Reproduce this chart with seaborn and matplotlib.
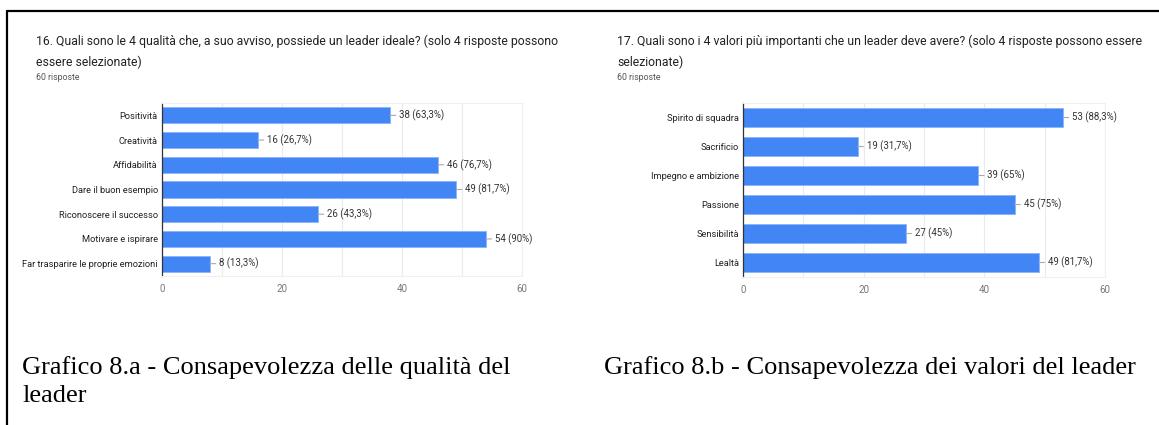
import matplotlib
matplotlib.use("Agg")
import matplotlib.pyplot as plt
import seaborn as sns
import pandas as pd
from matplotlib.lines import Line2D

# ---- data ----
labels_a = ["Positività", "Creatività", "Affidabilità", "Dare il buon esempio",
            "Riconoscere il successo", "Motivare e ispirare",
            "Far trasparire le proprie emozioni"]
values_a = [38, 16, 46, 49, 26, 54, 8]
pct_a = ["63,3%", "26,7%", "76,7%", "81,7%", "43,3%", "90%", "13,3%"]

labels_b = ["Spirito di squadra", "Sacrificio", "Impegno e ambizione",
            "Passione", "Sensibilità", "Lealtà"]
values_b = [53, 19, 39, 45, 27, 49]
pct_b = ["88,3%", "31,7%", "65%", "75%", "45%", "81,7%"]

ticks = [0, 20, 40, 60]

title_a = ("16. Quali sono le 4 qualità che, a suo avviso, possiede un leader ideale? (solo 4 risposte possono\n"
           "essere selezionate)")
title_b = ("17. Quali sono i 4 valori più importanti che un leader deve avere? (solo 4 risposte possono essere\n"
           "selezionate)")
subtitle = "60 risposte"
caption_a = "Grafico 8.a - Consapevolezza delle qualità del\nleader"
caption_b = "Grafico 8.b - Consapevolezza dei valori del leader"

# ---- style ----
sns.set_style("white")
plt.rcParams['font.family'] = ['Roboto', 'DejaVu Sans']

W, H = 1159, 425
fig = plt.figure(figsize=(W / 100, H / 100), dpi=100)
fig.patch.set_facecolor("white")

BLUE = "#4285F4"


def px_axes(x0, y0, x1, y1):
    return fig.add_axes([x0 / W, 1 - y1 / H, (x1 - x0) / W, (y1 - y0) / H])


def draw(ax, labels, values, pcts, width):
    df = pd.DataFrame({"cat": labels, "val": values})
    sns.barplot(data=df, y="cat", x="val", orient="h", color=BLUE,
                saturation=1, width=width, ax=ax,
                edgecolor="#8ab4f8", linewidth=0.6)
    ax.set_xlim(0, 60)
    ax.set_xticks(ticks)
    ax.set_xticks([10, 30, 50], minor=True)
    ax.grid(axis="x", which="both", color="#ebebeb", lw=0.8)
    ax.set_axisbelow(True)
    for s in ["top", "bottom", "right"]:
        ax.spines[s].set_color("#f0f0f0")
        ax.spines[s].set_linewidth(0.8)
    ax.spines["left"].set_color("#333333")
    ax.spines["left"].set_linewidth(0.9)
    ax.set_xlabel("")
    ax.set_ylabel("")
    ax.tick_params(axis="y", length=0, pad=3, labelsize=6.7, labelcolor="#222222")
    ax.tick_params(axis="x", which="both", length=0, pad=6, labelsize=7,
                   labelcolor="#777777")
    for i, (v, p) in enumerate(zip(values, pcts)):
        ax.annotate(f"{v} ({p})", xy=(v, i), xytext=(6.5, 0),
                    textcoords="offset points", va="center", ha="left",
                    fontsize=6.9, color="#333333",
                    arrowprops=dict(arrowstyle="-", color="#aaaaaa", lw=0.8,
                                    shrinkA=0, shrinkB=0))


ax1 = px_axes(162, 103, 522, 276)
draw(ax1, labels_a, values_a, pct_a, 0.65)
ax2 = px_axes(743, 103, 1105, 277)
draw(ax2, labels_b, values_b, pct_b, 0.66)

# titles
fig.text(36 / W, 1 - 35 / H, title_a, fontsize=8.8, color="#222222",
         va="top", ha="left", linespacing=1.7)
fig.text(36 / W, 1 - 78 / H, subtitle, fontsize=6.3, color="#555555",
         va="center", ha="left")
fig.text(617 / W, 1 - 35 / H, title_b, fontsize=8.8, color="#222222",
         va="top", ha="left", linespacing=1.7)
fig.text(617 / W, 1 - 78 / H, subtitle, fontsize=6.3, color="#555555",
         va="center", ha="left")

# captions
fig.text(22 / W, 1 - 356 / H, caption_a, fontsize=19, color="black",
         family="Liberation Serif", va="top", ha="left", linespacing=1.38)
fig.text(604 / W, 1 - 356 / H, caption_b, fontsize=19, color="black",
         family="Liberation Serif", va="top", ha="left")

# table borders
fig.add_artist(Line2D([7 / W, 1], [1 - 10.5 / H, 1 - 10.5 / H],
                      transform=fig.transFigure, color="black", lw=1.6))
fig.add_artist(Line2D([7 / W, 7 / W], [0, 1 - 10.5 / H],
                      transform=fig.transFigure, color="black", lw=1.6))

fig.savefig("out.png", dpi=100, facecolor="white")
